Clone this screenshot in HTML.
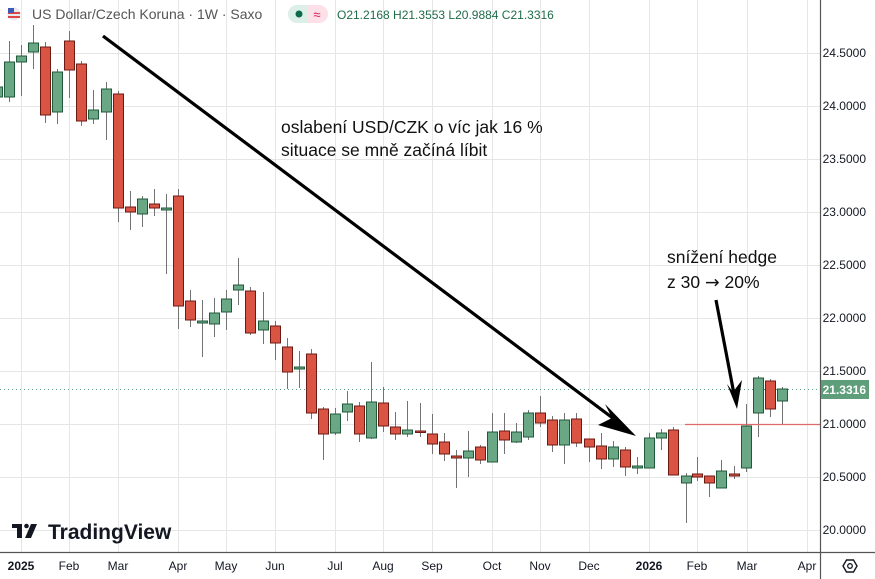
<!DOCTYPE html>
<html><head><meta charset="utf-8"><style>
html,body{margin:0;padding:0;background:#fff;}
svg{display:block;font-family:"Liberation Sans",sans-serif;}
</style></head><body>
<svg id="c" width="875" height="579" viewBox="0 0 875 579" xmlns="http://www.w3.org/2000/svg">
<rect width="875" height="579" fill="#fff"/>
<g id="grid" stroke="#e6e6e6" stroke-width="1"></g>
<line x1="0" y1="389.5" x2="820" y2="389.5" stroke="#5b9c7c" stroke-width="1" stroke-dasharray="1,3"/>
<g id="candles"></g>
<line x1="685" y1="424.5" x2="820" y2="424.5" stroke="#e06a6a" stroke-width="1.3"/>
<line x1="103" y1="36" x2="622" y2="425" stroke="#000" stroke-width="3.2"/>
<polygon points="636,436 598,425 612,418 605,404" fill="#000"/>
<line x1="716" y1="300" x2="734" y2="394" stroke="#000" stroke-width="3.2"/>
<polygon points="737,409 727,384 733,392 742,380" fill="#000"/>
<text x="281" y="133" font-size="17.5" fill="#111">oslabení USD/CZK o víc jak 16 %</text>
<text x="281" y="156" font-size="17.5" fill="#111">situace se mně začíná líbit</text>
<text x="667" y="263" font-size="17.5" fill="#111">snížení hedge</text>
<text x="667" y="288" font-size="17.5" fill="#111">z 30 <tspan font-family="DejaVu Sans">→</tspan> 20%</text>
<line x1="820.5" y1="0" x2="820.5" y2="579" stroke="#555" stroke-width="1.2"/>
<line x1="0" y1="552.5" x2="875" y2="552.5" stroke="#555" stroke-width="1.2"/>
<g id="ylab" font-size="12" fill="#131722" text-anchor="end"></g>
<rect x="821" y="380" width="48" height="19" fill="#5e9e7a"/>
<text x="866" y="394" font-size="12" fill="#fff" font-weight="bold" text-anchor="end">21.3316</text>
<g id="xlab" font-size="12" fill="#131722" text-anchor="middle"></g>
<polygon points="843,566 846.5,560 853.5,560 857,566 853.5,572 846.5,572" fill="none" stroke="#131722" stroke-width="1.4"/>
<circle cx="850" cy="566" r="2.3" fill="none" stroke="#131722" stroke-width="1.3"/>
<g fill="#131722">
<rect x="12" y="524" width="10" height="4"/><rect x="17" y="524" width="5" height="14"/>
<circle cx="26.5" cy="526" r="2.3"/>
<polygon points="31,524 37,524 31,538 25,538"/>
</g>
<text x="48" y="539" font-size="21" font-weight="bold" fill="#131722">TradingView</text>
<circle cx="14" cy="14" r="6.5" fill="#e8e8f0"/>
<rect x="8" y="12" width="12" height="2" fill="#e04545"/><rect x="8" y="16" width="12" height="2" fill="#e04545"/>
<rect x="8" y="8" width="6" height="5" fill="#3b5bb5"/>
<text x="32" y="19" font-size="14" fill="#555">US Dollar/Czech Koruna · 1W · Saxo</text>
<rect x="288" y="5" width="40" height="18" rx="9" fill="#fde0e8"/>
<path d="M297,5 H308 V23 H297 A9,9 0 0 1 297,5 Z" fill="#dcefe8"/>
<circle cx="299" cy="14" r="3.5" fill="#0b6b4a"/>
<text x="317" y="19" font-size="13" fill="#d4145a" text-anchor="middle">≈</text>
<text x="337" y="19" font-size="12" fill="#1f6b4b">O21.2168  H21.3553  L20.9884  C21.3316</text>
</svg>
<script>
var NS="http://www.w3.org/2000/svg";
function el(p,t,a,txt){var e=document.createElementNS(NS,t);for(var k in a)e.setAttribute(k,a[k]);if(txt)e.textContent=txt;p.appendChild(e);return e;}
var g=document.getElementById('grid');
[53,106,159,212,265,318,371,424,477,530].forEach(function(y){el(g,'line',{x1:0,x2:820,y1:y+.5,y2:y+.5});});
var vx=[21,69,118,178,226,275,335,383,432,492,540,589,649,697,747,807];
vx.forEach(function(x){el(g,'line',{x1:x+.5,x2:x+.5,y1:0,y2:552});});
var yl=document.getElementById('ylab');
["24.5000","24.0000","23.5000","23.0000","22.5000","22.0000","21.5000","21.0000","20.5000","20.0000"].forEach(function(t,i){el(yl,'text',{x:866,y:53+i*53+4},t);});
var xl=document.getElementById('xlab');
var xn=["2025","Feb","Mar","Apr","May","Jun","Jul","Aug","Sep","Oct","Nov","Dec","2026","Feb","Mar","Apr"];
xn.forEach(function(t,i){var a={x:vx[i],y:570};if(t=="2025"||t=="2026")a["font-weight"]="bold";el(xl,'text',a,t);});
var C=[
[-3,87,97,80,100,1],
[9,62,97,41,102,1],[21,56,62,45,96,1],[33,43,52,25,69,1],[45,47,115,42,123,0],[57,72,112,69,124,1],[69,41,70,31,98,0],[81,64,121,61,126,0],[93,110,119,90,124,1],[106,89,112,82,140,1],[118,94,208,91,222,0],
[130,207,212,191,230,0],[142,199,214,196,227,1],[154,204,208,189,216,0],[166,208,210,194,274,1],[178,196,306,189,329,0],[190,301,320,290,327,0],[202,321,323,300,357,1],[214,313,324,298,337,1],[226,299,312,290,330,1],[238,285,290,258,305,1],
[250,291,333,287,335,0],[263,321,330,292,344,1],[275,326,343,321,360,0],[287,347,372,338,389,0],[299,367,369,351,388,1],[311,354,413,349,419,0],[323,409,434,407,460,0],[335,414,433,408,435,1],[347,404,412,391,421,1],[359,406,434,402,442,0],
[371,402,438,362,439,1],[383,403,426,387,432,0],[395,427,434,412,440,0],[407,430,434,401,437,1],[420,431,432,403,437,0],[432,434,444,414,454,0],[444,442,454,433,461,0],[456,456,458,450,488,0],[468,451,458,431,477,1],[480,447,460,445,464,0],
[492,432,462,413,462,1],[504,431,440,413,454,0],[516,432,442,423,443,1],[528,413,437,410,440,1],[540,413,423,396,427,0],[552,420,445,416,452,0],[564,420,445,413,464,1],[576,419,443,413,447,0],[589,439,447,439,462,0],[601,446,459,433,469,0],
[613,447,459,441,467,1],[625,450,467,447,476,0],[637,466,468,457,474,1],[649,438,468,433,468,1],[661,433,438,429,450,1],[673,430,475,427,475,0],[686,476,483,473,523,1],[697,474,477,457,481,0],[709,476,483,476,497,0],[721,471,488,460,488,1],
[734,474,476,466,479,0],[746,426,468,404,472,1],[758,378,413,376,437,1],[770,381,409,379,417,0],[782,389,401,387,424,1]];
var cg=document.getElementById('candles');
C.forEach(function(c){var x=c[0],gr=c[5];
el(cg,'line',{x1:x+.5,x2:x+.5,y1:c[3],y2:c[4],stroke:'#737373','stroke-width':1});
var h=Math.max(c[2]-c[1],1.5);
el(cg,'rect',{x:x-4.5,y:c[1],width:10,height:h,fill:gr?'#6aa784':'#d95443',stroke:gr?'#1f5a3a':'#6e1a14','stroke-width':1});
});
</script>
</body></html>
